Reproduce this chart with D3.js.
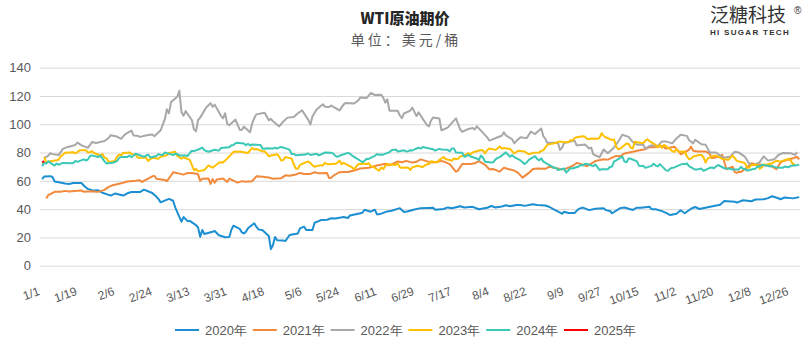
<!DOCTYPE html>
<html><head><meta charset="utf-8">
<script src="https://cdn.jsdelivr.net/npm/d3@7"></script>
<style>body{margin:0;background:#fff}svg{display:block}</style>
</head><body>
<svg id="c" width="810" height="349"></svg>
<script>
const seriesNames = ["2020年","2021年","2022年","2023年","2024年","2025年"];
const seriesColors = ["#1b8fd2","#f28a3d","#a8a8a8","#ffc000","#3cc8b6","#ff0000"];
const yTicks = [0,20,40,60,80,100,120,140];
const xTickLabels = ["1/1","1/19","2/6","2/24","3/13","3/31","4/18","5/6","5/24","6/11","6/29","7/17","8/4","8/22","9/9","9/27","10/15","11/2","11/20","12/8","12/26"];

const wti2020 = [["1/2",61.2],["1/3",63.0],["1/6",63.3],["1/7",62.7],["1/8",59.6],["1/10",59.0],["1/13",58.1],["1/15",57.8],["1/17",58.5],["1/21",58.4],["1/22",56.7],["1/24",54.2],["1/27",53.1],["1/29",53.3],["1/31",51.6],["2/3",50.1],["2/4",49.6],["2/6",51.0],["2/10",49.6],["2/12",51.2],["2/14",52.1],["2/18",52.1],["2/20",53.8],["2/24",51.4],["2/26",48.7],["2/27",47.1],["2/28",44.8],["3/3",47.2],["3/5",45.9],["3/6",41.3],["3/9",31.1],["3/10",34.4],["3/12",31.5],["3/13",31.7],["3/16",28.7],["3/17",27.0],["3/18",20.4],["3/19",25.2],["3/20",22.4],["3/24",24.0],["3/25",24.5],["3/27",21.5],["3/30",20.1],["4/1",20.3],["4/2",25.3],["4/3",28.3],["4/6",26.1],["4/7",23.6],["4/8",22.8],["4/9",24.0],["4/10",26.5],["4/13",30.0],["4/14",27.6],["4/15",25.7],["4/17",25.0],["4/20",21.0],["4/21",11.7],["4/22",14.6],["4/23",20.3],["4/24",18.0],["4/27",17.8],["4/28",17.5],["4/30",21.7],["5/4",22.8],["5/5",26.4],["5/7",27.6],["5/8",25.2],["5/11",25.2],["5/12",30.4],["5/14",31.5],["5/15",32.3],["5/18",32.5],["5/20",33.5],["5/22",33.3],["5/26",34.4],["5/28",33.7],["5/29",35.5],["6/2",36.8],["6/4",37.4],["6/5",39.6],["6/8",38.2],["6/10",39.6],["6/11",36.3],["6/12",36.3],["6/16",38.4],["6/18",38.8],["6/22",40.7],["6/24",38.0],["6/26",38.5],["6/29",39.7],["7/2",40.7],["7/8",40.9],["7/9",39.6],["7/13",40.1],["7/15",41.2],["7/17",40.6],["7/21",42.0],["7/23",41.1],["7/27",41.6],["7/30",39.9],["8/3",41.0],["8/5",42.2],["8/7",41.2],["8/10",41.9],["8/12",42.7],["8/14",42.0],["8/17",42.9],["8/19",42.9],["8/21",42.3],["8/25",43.4],["8/27",43.0],["8/31",42.6],["9/2",41.5],["9/4",39.8],["9/8",36.8],["9/9",38.1],["9/11",37.3],["9/14",37.3],["9/16",40.2],["9/18",41.1],["9/21",39.3],["9/24",40.3],["9/28",40.6],["9/29",39.3],["10/1",38.7],["10/2",37.1],["10/6",40.7],["10/8",41.2],["10/12",39.4],["10/14",41.0],["10/16",40.9],["10/20",41.7],["10/21",40.0],["10/23",39.9],["10/26",38.6],["10/28",37.4],["10/30",35.8],["11/2",36.8],["11/4",39.2],["11/6",37.1],["11/9",40.3],["11/11",41.5],["11/13",40.1],["11/17",41.4],["11/20",42.2],["11/23",43.1],["11/25",45.7],["11/30",45.3],["12/1",44.6],["12/4",46.3],["12/8",45.6],["12/10",46.8],["12/14",47.0],["12/16",47.8],["12/18",49.1],["12/21",47.7],["12/22",47.0],["12/24",48.2],["12/28",47.6],["12/31",48.5]];

const wti2021 = [["1/4",47.6],["1/5",50.0],["1/6",50.6],["1/8",52.2],["1/11",52.3],["1/13",52.9],["1/15",52.4],["1/19",53.0],["1/21",53.1],["1/22",52.3],["1/26",52.6],["1/28",52.3],["1/29",52.2],["2/1",53.6],["2/3",55.7],["2/5",56.9],["2/8",58.0],["2/10",58.7],["2/12",59.5],["2/16",60.1],["2/18",60.5],["2/19",59.2],["2/22",61.5],["2/24",63.2],["2/25",63.5],["2/26",61.5],["3/1",60.6],["3/2",59.8],["3/4",63.8],["3/5",66.1],["3/8",65.1],["3/10",64.4],["3/12",65.6],["3/15",65.4],["3/17",64.6],["3/18",60.0],["3/19",61.4],["3/22",61.6],["3/23",57.8],["3/24",61.2],["3/25",58.6],["3/26",61.0],["3/29",61.6],["3/31",59.2],["4/1",61.5],["4/5",58.7],["4/7",59.8],["4/9",59.3],["4/12",59.7],["4/14",63.2],["4/16",63.1],["4/20",62.4],["4/22",61.4],["4/26",61.9],["4/28",63.9],["4/30",63.6],["5/3",64.5],["5/5",65.6],["5/7",64.9],["5/10",64.9],["5/12",66.1],["5/14",65.4],["5/18",65.5],["5/19",62.0],["5/20",62.1],["5/21",63.6],["5/24",66.1],["5/26",66.2],["5/28",66.3],["6/1",67.7],["6/3",68.8],["6/7",69.2],["6/9",70.0],["6/11",70.9],["6/15",72.1],["6/17",71.0],["6/21",73.7],["6/23",73.1],["6/25",74.1],["6/28",72.9],["6/30",73.5],["7/2",75.2],["7/6",73.4],["7/8",72.9],["7/12",74.1],["7/14",73.1],["7/16",71.8],["7/19",66.4],["7/20",67.4],["7/22",71.9],["7/26",71.9],["7/28",72.4],["7/30",74.0],["8/2",71.3],["8/4",68.2],["8/6",68.3],["8/9",66.5],["8/11",69.3],["8/13",68.4],["8/16",67.3],["8/18",65.5],["8/20",62.3],["8/23",65.6],["8/25",68.4],["8/27",68.7],["8/31",68.5],["9/2",70.0],["9/7",68.4],["9/9",68.1],["9/13",70.5],["9/15",72.6],["9/17",72.0],["9/20",70.3],["9/22",72.2],["9/24",74.0],["9/28",75.3],["9/30",75.0],["10/4",77.6],["10/6",77.4],["10/8",79.4],["10/12",80.6],["10/14",81.3],["10/18",82.4],["10/20",83.9],["10/22",83.8],["10/26",84.7],["10/28",82.8],["11/1",84.1],["11/3",80.9],["11/4",78.8],["11/8",81.9],["11/9",84.2],["11/10",81.3],["11/12",80.8],["11/16",80.8],["11/18",79.0],["11/19",76.1],["11/22",76.8],["11/24",78.4],["11/26",68.2],["11/29",70.0],["11/30",66.2],["12/1",65.6],["12/2",66.5],["12/3",66.3],["12/6",69.5],["12/8",72.4],["12/10",71.7],["12/13",71.3],["12/15",70.9],["12/17",70.9],["12/20",68.2],["12/22",72.8],["12/23",73.8],["12/28",76.0],["12/30",77.0],["12/31",75.2]];

const wti2022 = [["1/3",76.1],["1/4",77.0],["1/5",77.9],["1/6",79.5],["1/7",78.9],["1/10",78.2],["1/12",82.6],["1/14",83.8],["1/18",85.4],["1/19",87.0],["1/21",85.1],["1/24",83.3],["1/26",87.4],["1/28",86.8],["2/1",88.2],["2/3",90.3],["2/4",92.3],["2/7",91.3],["2/9",89.7],["2/11",93.1],["2/14",95.5],["2/15",92.1],["2/17",91.8],["2/18",91.1],["2/22",92.4],["2/24",92.8],["2/25",91.6],["2/28",95.7],["3/1",103.4],["3/2",110.6],["3/3",107.7],["3/4",115.7],["3/7",119.4],["3/8",123.7],["3/9",108.7],["3/10",106.0],["3/11",109.3],["3/14",103.0],["3/15",96.4],["3/16",95.0],["3/17",103.0],["3/18",104.7],["3/21",112.1],["3/23",114.9],["3/24",112.3],["3/25",113.9],["3/28",106.0],["3/29",104.2],["3/30",107.8],["3/31",100.3],["4/1",99.3],["4/4",103.3],["4/6",96.2],["4/7",96.0],["4/8",98.3],["4/11",94.3],["4/12",100.6],["4/13",104.3],["4/14",107.0],["4/18",108.2],["4/20",102.8],["4/21",103.8],["4/22",102.1],["4/25",98.5],["4/27",102.0],["4/29",104.7],["5/2",105.2],["5/4",107.8],["5/6",109.8],["5/9",103.1],["5/10",99.8],["5/11",105.7],["5/13",110.5],["5/16",114.2],["5/17",112.4],["5/19",112.2],["5/20",113.2],["5/24",109.8],["5/26",114.1],["5/27",115.1],["5/31",114.7],["6/2",116.9],["6/3",118.9],["6/6",118.5],["6/8",122.1],["6/10",120.7],["6/13",120.9],["6/14",118.9],["6/15",115.3],["6/16",117.6],["6/17",109.6],["6/21",109.5],["6/22",106.2],["6/23",104.3],["6/24",107.6],["6/27",109.6],["6/28",111.8],["6/30",105.8],["7/1",108.4],["7/5",99.5],["7/6",98.5],["7/7",102.7],["7/8",104.8],["7/11",104.1],["7/12",95.8],["7/13",96.3],["7/15",97.6],["7/18",102.6],["7/19",104.2],["7/21",96.4],["7/22",94.7],["7/25",96.7],["7/27",97.3],["7/28",96.4],["7/29",98.6],["8/1",93.9],["8/3",90.7],["8/4",88.5],["8/5",89.0],["8/8",90.8],["8/10",91.9],["8/11",94.3],["8/12",92.1],["8/15",89.4],["8/16",86.5],["8/17",88.1],["8/19",90.8],["8/22",90.2],["8/24",94.9],["8/26",93.1],["8/29",97.0],["8/30",91.6],["8/31",89.6],["9/1",86.6],["9/2",86.9],["9/6",86.9],["9/7",81.9],["9/8",83.5],["9/9",86.8],["9/12",87.8],["9/14",88.5],["9/15",85.1],["9/16",85.1],["9/19",85.7],["9/21",82.9],["9/22",83.5],["9/23",78.7],["9/26",76.7],["9/28",82.2],["9/30",79.5],["10/3",83.6],["10/5",87.8],["10/7",92.6],["10/10",91.1],["10/12",87.3],["10/14",85.6],["10/17",85.5],["10/18",82.8],["10/20",84.5],["10/21",85.1],["10/24",84.6],["10/26",87.9],["10/28",87.9],["10/31",86.5],["11/2",90.0],["11/4",92.6],["11/7",91.8],["11/8",88.9],["11/10",86.5],["11/11",89.0],["11/14",85.9],["11/16",85.6],["11/18",80.1],["11/21",80.0],["11/23",77.9],["11/25",76.3],["11/28",77.2],["11/30",80.6],["12/2",80.0],["12/5",76.9],["12/7",72.0],["12/9",71.0],["12/12",73.2],["12/14",77.3],["12/16",74.3],["12/19",75.2],["12/21",78.3],["12/23",79.6],["12/27",79.5],["12/29",78.4],["12/30",80.3]];

const wti2023 = [["1/3",76.9],["1/4",72.8],["1/5",73.7],["1/6",73.8],["1/9",74.6],["1/10",75.1],["1/11",77.4],["1/12",78.4],["1/13",79.9],["1/17",80.2],["1/18",79.5],["1/19",80.3],["1/20",81.6],["1/23",81.6],["1/24",80.1],["1/25",80.2],["1/26",81.0],["1/27",79.7],["1/30",77.9],["1/31",78.9],["2/1",76.4],["2/2",75.9],["2/3",73.4],["2/6",74.1],["2/7",77.1],["2/8",78.5],["2/9",78.1],["2/10",79.7],["2/13",80.1],["2/14",79.1],["2/15",78.6],["2/16",78.5],["2/17",76.3],["2/21",76.4],["2/22",74.0],["2/23",75.4],["2/24",76.3],["2/27",75.7],["2/28",77.1],["3/1",77.7],["3/2",78.2],["3/3",79.7],["3/6",80.5],["3/7",77.6],["3/8",76.7],["3/9",75.7],["3/10",76.7],["3/13",74.8],["3/14",71.3],["3/15",67.6],["3/16",68.4],["3/17",66.7],["3/20",67.6],["3/21",69.3],["3/22",70.9],["3/23",70.0],["3/24",69.3],["3/27",72.8],["3/28",73.2],["3/29",73.0],["3/30",74.4],["3/31",75.7],["4/3",80.4],["4/4",80.7],["4/5",80.6],["4/6",80.7],["4/10",79.7],["4/11",81.5],["4/12",83.3],["4/13",82.2],["4/14",82.5],["4/17",80.8],["4/18",80.9],["4/19",79.2],["4/20",77.4],["4/21",77.9],["4/24",78.8],["4/25",77.1],["4/26",74.3],["4/27",74.8],["4/28",76.8],["5/1",75.7],["5/2",71.7],["5/3",68.6],["5/4",68.6],["5/5",71.3],["5/8",73.2],["5/9",73.7],["5/10",72.6],["5/11",70.9],["5/12",70.0],["5/15",71.1],["5/16",70.9],["5/17",72.8],["5/18",71.9],["5/19",71.7],["5/22",72.0],["5/23",72.9],["5/24",74.3],["5/25",71.8],["5/26",72.7],["5/30",69.5],["5/31",68.1],["6/1",70.1],["6/2",71.7],["6/5",72.2],["6/6",71.7],["6/7",72.5],["6/8",70.3],["6/9",70.2],["6/12",67.1],["6/13",69.4],["6/14",68.3],["6/15",70.6],["6/16",71.8],["6/20",71.2],["6/21",72.5],["6/22",69.5],["6/23",69.2],["6/26",69.4],["6/27",67.7],["6/28",69.6],["6/29",69.9],["6/30",70.6],["7/3",69.8],["7/5",71.8],["7/6",71.8],["7/7",73.9],["7/10",73.0],["7/11",74.8],["7/12",75.8],["7/13",76.9],["7/14",75.4],["7/17",74.2],["7/18",75.8],["7/19",75.4],["7/20",75.6],["7/21",77.1],["7/24",78.7],["7/25",79.6],["7/26",78.8],["7/27",80.1],["7/28",80.6],["7/31",81.8],["8/1",81.4],["8/2",79.5],["8/3",81.6],["8/4",82.8],["8/7",81.9],["8/8",82.9],["8/9",84.4],["8/10",82.8],["8/11",83.2],["8/14",82.5],["8/15",81.0],["8/16",79.4],["8/17",80.4],["8/18",81.3],["8/21",80.7],["8/22",79.6],["8/23",78.9],["8/24",79.1],["8/25",79.8],["8/28",80.1],["8/29",81.2],["8/30",81.6],["8/31",83.6],["9/1",85.6],["9/5",86.7],["9/6",87.5],["9/7",87.9],["9/8",87.5],["9/11",87.3],["9/12",88.8],["9/13",88.5],["9/14",90.2],["9/15",90.8],["9/18",91.5],["9/19",91.2],["9/20",89.7],["9/21",89.6],["9/22",90.0],["9/25",89.7],["9/26",90.4],["9/27",93.7],["9/28",91.7],["9/29",90.8],["10/2",88.8],["10/3",89.2],["10/4",84.2],["10/5",82.3],["10/6",82.8],["10/9",86.4],["10/10",86.0],["10/11",83.5],["10/12",82.9],["10/13",87.7],["10/16",86.7],["10/17",86.7],["10/18",88.3],["10/19",89.4],["10/20",88.1],["10/23",85.5],["10/24",83.7],["10/25",85.4],["10/26",83.2],["10/27",85.5],["10/30",82.3],["10/31",81.0],["11/1",80.4],["11/2",82.5],["11/3",80.5],["11/6",80.8],["11/7",77.4],["11/8",75.3],["11/9",75.7],["11/10",77.2],["11/13",78.3],["11/14",78.3],["11/15",76.7],["11/16",72.9],["11/17",75.9],["11/20",77.8],["11/21",77.8],["11/22",77.1],["11/24",75.5],["11/27",74.9],["11/28",76.4],["11/29",77.9],["11/30",76.0],["12/1",74.1],["12/4",73.0],["12/5",72.3],["12/6",69.4],["12/7",69.3],["12/8",71.2],["12/11",71.3],["12/12",68.6],["12/13",69.5],["12/14",71.6],["12/15",71.4],["12/18",72.5],["12/19",73.4],["12/20",74.2],["12/21",73.9],["12/22",73.6],["12/26",75.6],["12/27",74.1],["12/28",71.8],["12/29",71.7]];

const wti2024 = [["1/2",70.4],["1/3",72.7],["1/4",72.2],["1/5",73.8],["1/8",70.8],["1/9",72.2],["1/10",71.4],["1/11",72.0],["1/12",72.7],["1/16",72.4],["1/17",72.6],["1/18",74.1],["1/19",73.4],["1/22",75.2],["1/23",74.4],["1/24",75.1],["1/25",77.4],["1/26",78.0],["1/29",76.8],["1/30",77.8],["1/31",75.9],["2/1",73.8],["2/2",72.3],["2/5",72.8],["2/6",73.3],["2/7",73.9],["2/8",76.2],["2/9",76.8],["2/12",76.9],["2/13",77.9],["2/14",76.6],["2/15",78.0],["2/16",79.2],["2/20",77.0],["2/21",77.9],["2/22",78.6],["2/23",76.5],["2/26",77.6],["2/27",78.9],["2/28",78.5],["2/29",78.3],["3/1",80.0],["3/4",78.7],["3/5",78.2],["3/6",79.1],["3/7",78.9],["3/8",78.0],["3/11",77.9],["3/12",77.6],["3/13",79.7],["3/14",81.3],["3/15",81.0],["3/18",82.7],["3/19",83.5],["3/20",81.7],["3/21",81.1],["3/22",80.6],["3/25",82.0],["3/26",81.6],["3/27",81.4],["3/28",83.2],["4/1",83.7],["4/2",85.2],["4/3",85.4],["4/4",86.6],["4/5",86.9],["4/8",86.4],["4/9",85.2],["4/10",86.2],["4/11",85.0],["4/12",85.7],["4/15",85.4],["4/16",85.4],["4/17",82.7],["4/18",82.7],["4/19",83.1],["4/22",82.9],["4/23",83.4],["4/24",82.8],["4/25",83.6],["4/26",83.9],["4/29",82.6],["4/30",81.9],["5/1",79.0],["5/2",79.0],["5/3",78.1],["5/6",78.5],["5/7",78.4],["5/8",79.0],["5/9",79.3],["5/10",78.3],["5/13",79.1],["5/14",78.0],["5/15",78.6],["5/16",79.2],["5/17",80.1],["5/20",79.8],["5/21",79.3],["5/22",77.6],["5/23",76.9],["5/24",77.7],["5/28",79.8],["5/29",79.2],["5/30",77.9],["5/31",77.0],["6/3",74.2],["6/4",73.3],["6/5",74.1],["6/6",75.6],["6/7",75.5],["6/10",77.7],["6/11",78.9],["6/12",78.5],["6/13",78.6],["6/14",78.5],["6/17",80.3],["6/18",81.6],["6/20",82.2],["6/21",80.7],["6/24",81.6],["6/25",80.8],["6/26",80.9],["6/27",81.7],["6/28",81.5],["7/1",83.4],["7/2",82.8],["7/3",83.9],["7/5",83.2],["7/8",82.3],["7/9",81.4],["7/10",82.1],["7/11",82.6],["7/12",82.2],["7/15",81.9],["7/16",80.8],["7/17",82.9],["7/18",82.8],["7/19",80.1],["7/22",79.8],["7/23",77.0],["7/24",77.6],["7/25",78.3],["7/26",77.2],["7/29",75.8],["7/30",74.7],["7/31",77.9],["8/1",76.3],["8/2",73.5],["8/5",72.9],["8/6",73.2],["8/7",75.2],["8/8",76.2],["8/9",76.8],["8/12",80.1],["8/13",78.4],["8/14",77.0],["8/15",78.2],["8/16",76.7],["8/19",74.4],["8/20",73.2],["8/21",71.9],["8/22",73.0],["8/23",74.8],["8/26",77.4],["8/27",75.5],["8/28",74.5],["8/29",75.9],["8/30",73.6],["9/3",70.3],["9/4",69.2],["9/5",69.2],["9/6",67.7],["9/9",68.7],["9/10",65.8],["9/11",67.3],["9/12",69.0],["9/13",68.7],["9/16",70.1],["9/17",71.2],["9/18",70.9],["9/19",72.0],["9/20",71.9],["9/23",70.4],["9/24",71.6],["9/25",69.7],["9/26",67.7],["9/27",68.2],["9/30",68.2],["10/1",69.8],["10/2",70.1],["10/3",73.7],["10/4",74.4],["10/7",77.1],["10/8",73.6],["10/9",73.2],["10/10",75.9],["10/11",75.6],["10/14",73.8],["10/15",70.6],["10/16",70.4],["10/17",70.7],["10/18",69.2],["10/21",70.6],["10/22",72.1],["10/23",70.8],["10/24",70.2],["10/25",71.8],["10/28",67.4],["10/29",67.2],["10/30",68.6],["10/31",69.3],["11/1",69.5],["11/4",71.5],["11/5",72.0],["11/6",71.7],["11/7",72.4],["11/8",70.4],["11/11",68.0],["11/12",68.1],["11/13",68.4],["11/14",68.7],["11/15",67.0],["11/18",69.2],["11/19",69.4],["11/20",68.9],["11/21",70.1],["11/22",71.2],["11/25",68.9],["11/26",68.8],["11/27",68.7],["11/29",68.0],["12/2",68.1],["12/3",69.9],["12/4",68.5],["12/5",68.3],["12/6",67.2],["12/9",68.4],["12/10",68.6],["12/11",70.3],["12/12",70.0],["12/13",71.3],["12/16",70.7],["12/17",70.1],["12/18",70.6],["12/19",69.9],["12/20",69.5],["12/23",69.2],["12/24",70.1],["12/26",69.6],["12/27",70.6],["12/30",71.0],["12/31",71.7]];

const wti2025 = [["1/2",73.1],["1/3",74.0]];

const allSeries = [wti2020, wti2021, wti2022, wti2023, wti2024, wti2025];

const svg = d3.select("#c");
const jan1 = new Date(2020, 0, 1);
const dayOf = s => { const [m, d] = s.split("/").map(Number); return d3.timeDay.count(jan1, new Date(2020, m - 1, d)); };

const x = d3.scaleLinear().domain([0, 365]).range([40, 799.2]);
const y = d3.scaleLinear().domain([0, 140]).range([265.7, 67.7]);
const font = "'Liberation Sans', Arial, sans-serif";
const cjk = "'Noto Sans CJK SC', sans-serif";

// grid + y labels
const gy = svg.append("g").attr("transform", "translate(40,0)")
  .call(d3.axisLeft(y).tickValues(yTicks).tickSize(-760).tickPadding(9).tickFormat(d3.format("d")));
gy.select(".domain").remove();
gy.selectAll(".tick line").attr("stroke", "#d9d9d9").attr("stroke-width", 1);
gy.selectAll(".tick text").attr("fill", "#595959").style("font-family", font).style("font-size", "13px");

// x labels
const xTickDays = xTickLabels.map(dayOf);
const gx = svg.append("g").attr("transform", "translate(0,283)")
  .call(d3.axisBottom(x).tickValues(xTickDays).tickSize(0).tickFormat((d, i) => xTickLabels[i]));
gx.select(".domain").remove();
gx.selectAll(".tick text")
  .attr("fill", "#595959").style("font-family", font).style("font-size", "12px")
  .attr("text-anchor", "end").attr("y", 0).attr("dy", "0.9em").attr("x", -4)
  .attr("transform", "rotate(-20)");

// lines
const line = d3.line().x(d => x(dayOf(d[0]))).y(d => y(d[1]));
svg.append("g").selectAll("path").data(allSeries).join("path")
  .attr("d", line).attr("fill", "none")
  .attr("stroke", (d, i) => seriesColors[i]).attr("stroke-width", 2)
  .attr("stroke-linejoin", "round");

// title
svg.append("text").attr("x", 405).attr("y", 23.5).attr("text-anchor", "middle")
  .style("font-family", cjk).style("font-size", "15px").style("font-weight", "900").attr("fill", "#262626")
  .text("WTI原油期价");
svg.append("text").attr("x", 406).attr("y", 45).attr("text-anchor", "middle")
  .style("font-family", cjk).style("font-size", "14px").style("letter-spacing", "3px").attr("fill", "#595959")
  .text("单位：美元/桶");

// logo
svg.append("text").attr("x", 710).attr("y", 22)
  .style("font-family", cjk).style("font-size", "19px").attr("fill", "#333")
  .text("泛糖科技");
svg.append("text").attr("x", 794).attr("y", 14)
  .style("font-family", font).style("font-size", "10px").attr("fill", "#333").text("®");
svg.append("text").attr("x", 710).attr("y", 35)
  .style("font-family", font).style("font-size", "8px").style("font-weight", "bold").style("letter-spacing", "1.3px").attr("fill", "#333")
  .text("HI SUGAR TECH");

// legend
const lg = svg.append("g").selectAll("g").data(seriesNames).join("g")
  .attr("transform", (d, i) => `translate(${175 + i * 77.8},330)`);
lg.append("line").attr("x1", 0).attr("x2", 24).attr("y1", 0).attr("y2", 0)
  .attr("stroke", (d, i) => seriesColors[i]).attr("stroke-width", 2);
lg.append("text").attr("x", 30).attr("y", 0).attr("dy", "0.36em")
  .style("font-family", font).style("font-size", "13px").attr("fill", "#595959")
  .text(d => d);
</script>
</body></html>
